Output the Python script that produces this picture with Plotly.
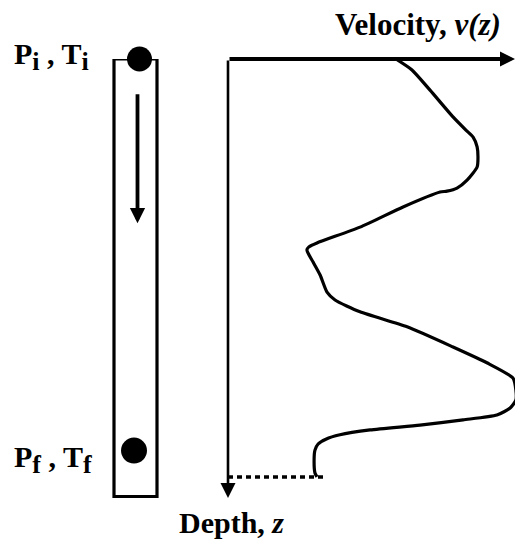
import plotly.graph_objects as go

# Velocity profile v(z): normalised velocity against normalised depth
depth = [0.000, 0.025, 0.071, 0.132, 0.162, 0.178, 0.200, 0.223, 0.246, 0.276,
         0.294, 0.301, 0.303, 0.337, 0.383, 0.419, 0.428, 0.435, 0.446, 0.462,
         0.492, 0.531, 0.549, 0.576, 0.610, 0.656, 0.692, 0.727, 0.754, 0.777,
         0.795, 0.811, 0.822, 0.834, 0.845, 0.856, 0.866, 0.877, 0.891, 0.913,
         0.943, 0.952]
velocity = [0.585, 0.641, 0.704, 0.784, 0.829, 0.854, 0.868, 0.871, 0.868, 0.833,
            0.798, 0.763, 0.739, 0.610, 0.460, 0.310, 0.282, 0.275, 0.282, 0.296,
            0.321, 0.345, 0.373, 0.460, 0.624, 0.784, 0.902, 0.993, 1.003, 1.003,
            0.983, 0.937, 0.819, 0.669, 0.495, 0.390, 0.341, 0.314, 0.303, 0.300,
            0.303, 0.310]

# Bottom of the profile, marked with a dotted line back to the depth axis
z_bottom = 0.952
v_bottom = 0.338

# Ray column: start (P_i, T_i) at the top and end (P_f, T_f) near the bottom
column_left, column_right = 114, 157
column_top, column_base = 0.0, 0.997
start_pt = (139.5, 0.0)
end_pt = (134.0, 0.892)
travel_arrow_x = 137.5
travel_arrow_z = (0.077, 0.374)

FONT = "Liberation Serif"
BLACK = "black"
SUB = '<sub><span style="font-size:26px">{}</span></sub>'

fig = go.Figure()

# velocity profile
fig.add_trace(go.Scatter(
    x=velocity, y=depth, xaxis="x", yaxis="y", mode="lines",
    line=dict(color=BLACK, width=3.2, shape="spline", smoothing=0.6),
    hoverinfo="skip", showlegend=False, cliponaxis=True))

# dotted line at the bottom of the profile
fig.add_trace(go.Scatter(
    x=[0, v_bottom], y=[z_bottom, z_bottom], xaxis="x", yaxis="y", mode="lines",
    line=dict(color=BLACK, width=3.5, dash="5px,4px"),
    hoverinfo="skip", showlegend=False))

# column outline
fig.add_trace(go.Scatter(
    x=[column_left, column_right, column_right, column_left, column_left],
    y=[column_top, column_top, column_base, column_base, column_top],
    xaxis="x2", yaxis="y", mode="lines",
    line=dict(color=BLACK, width=3.2),
    hoverinfo="skip", showlegend=False, cliponaxis=False))

# start and end points
fig.add_trace(go.Scatter(
    x=[start_pt[0], end_pt[0]], y=[start_pt[1], end_pt[1]],
    xaxis="x2", yaxis="y", mode="markers",
    marker=dict(color=BLACK, size=[25, 26], opacity=1, line=dict(width=0)),
    hoverinfo="skip", showlegend=False, cliponaxis=False))

annotations = [
    # velocity axis
    dict(x=1.0, y=0, ax=0, ay=0, xref="x", yref="y", axref="x", ayref="y",
         showarrow=True, arrowhead=2, arrowsize=0.75, arrowwidth=4,
         arrowcolor=BLACK, text="", standoff=0),
    # depth axis
    dict(x=0, y=1.0, ax=0, ay=0, xref="x", yref="y", axref="x", ayref="y",
         showarrow=True, arrowhead=2, arrowsize=1.15, arrowwidth=2.6,
         arrowcolor=BLACK, text="", standoff=0),
    # direction of travel in the column
    dict(x=travel_arrow_x, y=travel_arrow_z[1], ax=travel_arrow_x,
         ay=travel_arrow_z[0], xref="x2", yref="y", axref="x2", ayref="y",
         showarrow=True, arrowhead=2, arrowsize=0.8, arrowwidth=3.8,
         arrowcolor=BLACK, text="", standoff=0),
    # labels
    dict(x=0.941, y=0.0, xshift=5, yshift=35, xref="x", yref="y", xanchor="right",
         yanchor="middle", text="<b>Velocity, <i>v(z)</i></b>", showarrow=False,
         font=dict(family=FONT, size=31, color=BLACK)),
    dict(x=0.012, y=1.0, yshift=-24, xref="x", yref="y", xanchor="center",
         yanchor="middle", text="<b>Depth, <i>z</i></b>", showarrow=False,
         font=dict(family=FONT, size=30, color=BLACK)),
    dict(x=12, y=0.0, yshift=3, xref="x2", yref="y", xanchor="left", yanchor="middle",
         text="<b>P" + SUB.format("i") + " , T" + SUB.format("i") + "</b>",
         showarrow=False, font=dict(family=FONT, size=30, color=BLACK)),
    dict(x=12, y=0.92, yshift=3, xref="x2", yref="y", xanchor="left", yanchor="middle",
         text="<b>P" + SUB.format("f") + " , T" + SUB.format("f") + "</b>",
         showarrow=False, font=dict(family=FONT, size=30, color=BLACK)),
]

W, H = 515, 546
fig.update_layout(
    width=W, height=H, margin=dict(l=0, r=0, t=0, b=0),
    paper_bgcolor="white", plot_bgcolor="white",
    xaxis=dict(domain=[228 / W, 1.0], range=[0, 1.0], visible=False),
    xaxis2=dict(domain=[0, 228 / W], range=[0, 228], visible=False),
    yaxis=dict(domain=[1 - 498 / H, 1 - 59 / H], range=[1.0, 0.0], visible=False),
    annotations=annotations,
    showlegend=False,
)

fig.write_html("out.html")
